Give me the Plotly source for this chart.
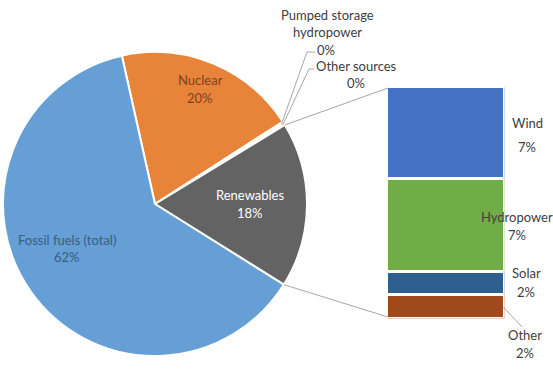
import math
import plotly.graph_objects as go

W, H = 553, 369

# ---- data ----
pie_labels = ["Nuclear", "Pumped storage hydropower", "Other sources", "Renewables", "Fossil fuels (total)"]
pie_values = [19.4, 0.2, 0.2, 17.6, 62.6]
pie_text = ["20%", "0%", "0%", "18%", "62%"]
pie_colors = ["#E8833A", "#A5A5A5", "#FFC000", "#636363", "#669FD6"]

bar_labels = ["Other", "Solar", "Hydropower", "Wind"]  # bottom to top
bar_values = [1.8, 1.8, 7.0, 7.0]
bar_text = ["2%", "2%", "7%", "7%"]
bar_colors = ["#A0491A", "#2F5F8F", "#70AD47", "#4472C4"]

FONT = "Lato"
TXT = "#404040"

# ---- layout geometry (pixels) ----
CX, CY, R = 155, 204, 152
START = -12.6  # degrees, clockwise from 12 o'clock
BAR_L, BAR_R, BAR_T, BAR_B = 388, 503, 88, 317
LW = 3  # white separator width on bars


def px(x):
    return x / W


def py(y):
    return 1 - y / H


fig = go.Figure()

fig.add_trace(go.Pie(
    labels=pie_labels, values=pie_values, sort=False, direction="clockwise",
    rotation=START, textinfo="none", hoverinfo="skip",
    marker=dict(colors=pie_colors, line=dict(color="white", width=2)),
    domain=dict(x=[px(CX - R), px(CX + R)], y=[py(CY + R), py(CY - R)]),
    showlegend=False,
))

total_bar = sum(bar_values)
for lab, v, c in zip(bar_labels, bar_values, bar_colors):
    fig.add_trace(go.Bar(
        x=["Renewables"], y=[v], name=lab, marker=dict(color=c, line=dict(color="white", width=LW)),
        hoverinfo="skip", showlegend=False, width=1,
    ))

half = LW / 2
fig.update_layout(
    width=W, height=H, margin=dict(l=0, r=0, t=0, b=0),
    paper_bgcolor="white", plot_bgcolor="white", barmode="stack", bargap=0,
    xaxis=dict(domain=[px(BAR_L - half), px(BAR_R + half)], visible=False, range=[-0.5, 0.5], fixedrange=True),
    yaxis=dict(domain=[py(BAR_B + half), py(BAR_T - half)], visible=False, range=[0, total_bar], fixedrange=True),
    font=dict(family=FONT, size=13, color=TXT),
)

# ---- pie geometry from data ----
tot = sum(pie_values)
bounds = [START]
for v in pie_values:
    bounds.append(bounds[-1] + v / tot * 360)


def edge(angle_deg, r=R):
    a = math.radians(angle_deg)
    return CX + r * math.sin(a), CY - r * math.cos(a)


def bar_y(v):
    return (BAR_B + half) - v / total_bar * ((BAR_B + half) - (BAR_T - half))


shapes = []


def line(x0, y0, x1, y1):
    shapes.append(dict(type="line", xref="paper", yref="paper", x0=px(x0), y0=py(y0), x1=px(x1), y1=py(y1),
                       line=dict(color="#A6A6A6", width=1)))


# connectors renewables -> bar
ren_i = pie_labels.index("Renewables")
sx, sy = edge(bounds[ren_i])
ex, ey = edge(bounds[ren_i + 1])
line(sx, sy, BAR_L, BAR_T)
line(ex, ey, BAR_L, BAR_B)

# leaders for tiny slices
for i, (kx, ky, hx) in zip([1, 2], [(307, 52, 315), (309, 69, 314)]):
    mx, my = edge((bounds[i] + bounds[i + 1]) / 2, R - 2)
    line(mx, my, kx, ky)
    line(kx, ky, hx, ky)

# leader for "Other" bar label
other_mid = bar_y(bar_values[0] / 2)
line(BAR_R, other_mid, 522, 327)

fig.update_layout(shapes=shapes)

anns = []


def text(t, x, y, color=TXT):
    anns.append(dict(text=t, x=px(x), y=py(y), xref="paper", yref="paper", showarrow=False, borderpad=0,
                     xanchor="center", yanchor="middle", font=dict(family=FONT, size=13, color=color)))


# pie labels
text(pie_labels[0], 200, 80, "#7A4420"); text(pie_text[0], 200, 98, "#7A4420")
text(pie_labels[3], 250, 195, "white"); text(pie_text[3], 250, 213, "white")
text(pie_labels[4], 67, 240, "#3B5C82"); text(pie_text[4], 67, 257, "#3B5C82")
text("Pumped storage", 327, 15); text("hydropower", 327, 32); text(pie_text[1], 326, 50)
text(pie_labels[2], 356, 66); text(pie_text[2], 356, 83)

# bar labels
text(bar_labels[3], 527, 123); text(bar_text[3], 527, 147)
text(bar_labels[2], 517, 217); text(bar_text[2], 517, 235)
text(bar_labels[1], 526, 273); text(bar_text[1], 526, 292)
text(bar_labels[0], 525, 335); text(bar_text[0], 525, 353)

fig.update_layout(annotations=anns)

fig.write_html(
    "out.html", config=dict(displayModeBar=False, staticPlot=True),
    post_script="document.body.style.margin='0px';document.body.style.overflow='hidden';",
)
